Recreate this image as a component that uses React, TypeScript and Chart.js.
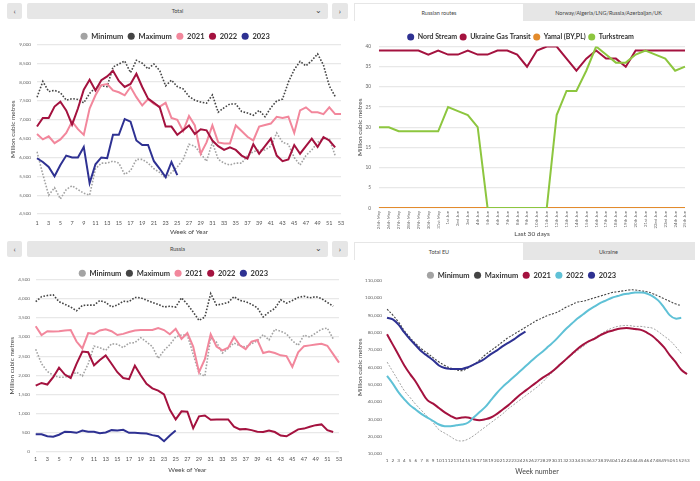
import { useEffect, useRef } from "react";
import { Chart, registerables } from "chart.js";
Chart.register(...registerables);

// ---------- Labels ----------
const weekLabels = ["1","2","3","4","5","6","7","8","9","10","11","12","13","14","15","16","17","18","19","20","21","22","23","24","25","26","27","28","29","30","31","32","33","34","35","36","37","38","39","40","41","42","43","44","45","46","47","48","49","50","51","52","53"];
const dayLabels = ["25th May","26th May","27th May","28th May","29th May","30th May","31st May","1st Jun","2nd Jun","3rd Jun","4th Jun","5th Jun","6th Jun","7th Jun","8th Jun","9th Jun","10th Jun","11th Jun","12th Jun","13th Jun","14th Jun","15th Jun","16th Jun","17th Jun","18th Jun","19th Jun","20th Jun","21st Jun","22nd Jun","23rd Jun","24th Jun","25th Jun"];

// ---------- Total imports (weekly) ----------
const totalMin = [6150,5550,5000,5200,4900,5150,5250,5150,5050,5000,5700,5850,5850,5900,5850,5550,5650,5950,5950,5850,5700,5600,5450,5600,5750,5950,6350,6300,6100,5900,6400,5950,5850,5800,5850,5850,6050,6150,6200,6200,6300,6650,6400,6350,6000,5800,6050,6200,6400,6500,6500,6050];
const totalMax = [7600,8020,7750,7780,7720,7520,7560,7540,7450,7700,7850,7900,7880,8400,8480,8560,8250,8580,8500,8350,8480,8300,7900,8050,7880,7820,7620,7520,7470,7440,7660,7200,7320,7420,7420,7220,7180,7120,7250,7080,7320,7500,7550,8000,8330,8550,8430,8570,8750,8450,7900,7620];
const total2021 = [6620,6480,6560,6380,6480,6650,6950,6750,6600,7300,7650,7920,7950,7780,7730,7650,7870,7600,7380,7550,7420,7350,7450,7050,7000,6700,7100,6850,6100,6400,6850,6400,6370,6370,6850,6700,6550,6450,6820,6860,6900,7080,7050,7080,6650,7250,7330,7200,7200,7150,7330,7150,7150];
const total2022 = [6820,7050,7050,7350,7480,7250,6870,7300,7800,8060,7780,8050,8150,8300,8030,7870,7950,8220,7870,7560,7450,7330,6820,6820,6600,6720,6850,6620,6750,6720,6450,6300,6200,6270,6200,6050,5970,6350,6100,6300,6500,6050,5900,5950,6330,6100,6300,6500,6280,6540,6450,6270];
const total2023 = [5980,5880,5750,5500,5800,6050,6000,6000,6280,5320,5820,6000,5980,6600,6600,7020,6950,6450,6330,6330,5900,5700,5480,5880,5530];

// ---------- Russian routes (last 30 days) ----------
const nordStream = [0,0,0,0,0,0,0,0,0,0,0,0,0,0,0,0,0,0,0,0,0,0,0,0,0,0,0,0,0,0,0,0];
const ukraineTransit = [39,39,39,39,39,38,39,38,38,39,38,38,39,39,38,35,39,40,40,37,34,37,39,37,37,35,39,39,39,39,39,39];
const yamal = [0,0,0,0,0,0,0,0,0,0,0,0,0,0,0,0,0,0,0,0,0,0,0,0,0,0,0,0,0,0,0,0];
const turkstream = [20,20,19,19,19,19,19,25,24,23,20,0,0,0,0,0,0,0,23,29,29,34,40,38,36,36,38,39,38,37,34,35];

// ---------- Russia (weekly) ----------
const russiaMin = [2680,2300,2100,2000,1950,1950,2000,2080,1980,2300,2760,2720,2650,2820,2810,2720,2840,2850,2980,2870,2750,2440,2650,2800,3000,3050,3050,2550,2050,1980,2980,2860,2580,2700,2840,2770,2740,2820,2900,3060,2920,3200,3150,3080,2900,2780,3050,3000,3100,3200,3230,2950];
const russiaMax = [3920,4050,4080,4100,3920,3850,3780,3680,3820,3830,3830,3950,3900,3780,3830,3930,3920,4030,4020,3960,3900,3850,3780,3800,3780,4020,3850,3650,3430,3520,4130,3830,3860,3900,4050,3950,3920,3850,3760,3520,3650,3740,3970,3880,3950,4030,4060,4020,4050,4000,3900,3800];
const russia2021 = [3280,3050,3150,3140,3150,3170,3180,2880,2700,3100,3080,3170,3200,3150,3050,3080,3130,3170,3180,3180,3180,3230,3180,3070,3210,2950,3100,2750,2080,2420,3070,2750,2650,2720,3000,2780,2680,2880,2920,2580,2620,2580,2520,2500,2220,2600,2760,2780,2800,2820,2770,2550,2330];
const russia2022 = [1730,1800,1760,1950,2200,2020,1930,2300,2620,2600,2260,2400,2520,2300,2080,1930,1900,2250,2000,1780,1660,1600,1500,1100,850,1060,1050,620,930,950,840,850,850,850,660,590,600,570,530,520,560,520,430,410,500,590,610,660,700,720,570,520];
const russia2023 = [460,460,410,400,450,530,520,500,560,530,530,490,510,570,560,580,500,500,490,480,440,410,280,430,560];

// ---------- EU storage (weekly) ----------
const storageMin = [63000,57500,52000,46500,42500,38500,35000,31500,28000,24000,22000,20000,18000,17500,18500,20500,23000,25500,28000,30500,33000,36000,38500,41000,43500,46000,48500,51500,55000,58000,61000,64000,67000,69500,72000,74500,77000,79000,81000,82500,83500,84000,84000,83500,83500,83000,82500,80500,78000,75500,72000,68000];
const storageMax = [93500,90000,86000,81000,77000,73500,70500,68000,65500,63000,61000,59500,58500,58000,59500,61500,64000,67000,69500,72000,74500,77000,79000,81000,83000,85000,87000,88500,90000,91000,92500,94500,96000,97500,98000,99000,100000,101000,102000,103000,103500,104000,104500,104500,104000,103500,102500,101000,99500,98000,96500,95500];
const storage2021 = [79000,73000,67000,61000,56000,51500,46000,41000,39000,36500,34000,32000,30500,31000,31000,30000,29500,30000,31000,33000,35500,38000,41000,44000,46500,49000,51500,54000,56000,58500,61500,64500,67500,70500,73000,75000,76500,78500,80000,81000,82000,82500,82500,82000,81500,80000,78000,75000,71500,67000,63000,58500,56000];
const storage2022 = [55000,50500,45500,41500,38000,35500,33000,31000,29000,27000,26000,26000,26500,27000,28000,31000,34000,37000,41000,45000,48500,51500,54500,57500,60500,63500,66500,69000,72000,75000,78500,82000,85000,88000,90500,93000,95000,97000,98500,100000,101000,102000,102500,103000,103000,102500,101000,98500,94500,90000,88000,88500];
const storage2023 = [88500,87500,84500,80000,76000,72500,69000,66500,64000,61000,59500,59000,59000,59000,60000,61500,63000,65000,67500,69500,72000,74000,76000,78500,80500];

// ---------- Styles ----------
const FONT = "Lato, 'Open Sans', sans-serif";
const C = {
  min: "#a3a3a3",
  max: "#444444",
  pink: "#f2879c",
  red: "#a4123f",
  navy: "#2e3192",
  blue: "#5fc1d6",
  green: "#8dc63f",
  orange: "#e38b2c",
};

function legendLabels(fontSize: number, padding: number) {
  return {
    usePointStyle: true,
    pointStyle: "circle",
    boxWidth: 7,
    boxHeight: 5,
    padding,
    color: "#333",
    font: { family: FONT, size: fontSize, weight: 700 as const },
    sort: (a: any, b: any) => a.datasetIndex - b.datasetIndex,
    generateLabels: (chart: any) => {
      const items = (Chart.defaults.plugins.legend.labels as any).generateLabels(chart);
      return items.map((it: any) => {
        const ds = chart.data.datasets[it.datasetIndex];
        return { ...it, fillStyle: ds.legendColor || it.fillStyle, strokeStyle: ds.legendColor || it.strokeStyle, lineDash: [], lineWidth: 0 };
      });
    },
  };
}

function legendGap(extra: number) {
  return {
    id: "legendGap",
    afterInit(chart: any) {
      const legend = chart.legend;
      if (!legend) return;
      const fit = legend.fit;
      legend.fit = function () {
        fit.call(this);
        this.height += extra;
      };
    },
  };
}

function line(label: string, data: number[], color: string, order: number, extra: any = {}) {
  return {
    label,
    data,
    borderColor: color,
    backgroundColor: color,
    legendColor: color,
    borderWidth: 2,
    pointRadius: 0,
    pointHoverRadius: 0,
    fill: false,
    tension: 0,
    order,
    ...extra,
  };
}

function dotted(label: string, data: number[], color: string, order: number, width = 1.6, dash = [1.6, 1.6]) {
  return line(label, data, color, order, { borderWidth: width, borderDash: dash });
}

const fmt = (v: any) => Number(v).toLocaleString("en-US");

type Geo = {
  pad: { left: number; right: number; top: number; bottom: number };
  xTickPad: number;
  xTitlePad: number;
  yTickPad: number;
  yTitlePad: number;
};

function weeklyOptions(yMin: number, yMax: number, step: number, g: Geo, oddOnly: boolean, gridY: boolean, xTitle: string) {
  return {
    animation: false as const,
    responsive: true,
    maintainAspectRatio: false,
    layout: { padding: g.pad },
    plugins: {
      legend: { position: "top" as const, labels: legendLabels(7.5, 4.5) },
      tooltip: { enabled: false },
    },
    scales: {
      x: {
        grid: { display: false, drawTicks: false },
        border: { display: false },
        ticks: {
          autoSkip: false,
          maxRotation: 0,
          minRotation: 0,
          padding: g.xTickPad,
          color: "#555",
          font: { family: FONT, size: oddOnly ? 5.5 : 4.6 },
          callback: function (_v: any, i: number) {
            return oddOnly ? (i % 2 === 0 ? weekLabels[i] : "") : weekLabels[i];
          },
        },
        title: { display: true, text: xTitle, color: "#444", font: { family: FONT, size: oddOnly ? 6.5 : 7 }, padding: { top: g.xTitlePad, bottom: 0 } },
      },
      y: {
        min: yMin,
        max: yMax,
        grid: { display: gridY, color: "#e8e8e8", lineWidth: 1.2, drawTicks: false },
        border: { display: false },
        ticks: { stepSize: step, padding: g.yTickPad, color: "#666", font: { family: FONT, size: 4.6 }, callback: fmt },
        title: { display: true, text: "Million cubic metres", color: "#444", font: { family: FONT, size: 6.5 }, padding: { top: 0, bottom: g.yTitlePad } },
      },
    },
  };
}

function ChartBox({ left, top, width, height, make }: { left: number; top: number; width: number; height: number; make: () => any }) {
  const ref = useRef<HTMLCanvasElement>(null);
  useEffect(() => {
    const chart = new Chart(ref.current as HTMLCanvasElement, make());
    return () => chart.destroy();
  }, []);
  return (
    <div style={{ position: "absolute", left, top, width, height }}>
      <canvas ref={ref} />
    </div>
  );
}

const btn: any = {
  position: "absolute",
  background: "#e6e6e6",
  borderRadius: 2,
  color: "#444",
  fontFamily: FONT,
  display: "flex",
  alignItems: "center",
  justifyContent: "center",
};

function NavHeader({ top, title }: { top: number; title: string }) {
  return (
    <>
      <div style={{ ...btn, left: 7, top, width: 15, height: 16, fontSize: 8 }}>‹</div>
      <div style={{ ...btn, left: 27, top, width: 301, height: 16, fontSize: 5.5 }}>
        {title}
        <span style={{ position: "absolute", right: 6, top: 2, fontSize: 8 }}>⌄</span>
      </div>
      <div style={{ ...btn, left: 332, top, width: 16, height: 16, fontSize: 8 }}>›</div>
    </>
  );
}

function Tabs({ top, a, b }: { top: number; a: string; b: string }) {
  return (
    <>
      <div style={{ position: "absolute", left: 354, top, width: 341, height: 18, background: "#e6e6e6" }} />
      <div style={{ ...btn, left: 355, top: top + 1, width: 168, height: 18, background: "#fff", borderRadius: 0, fontSize: 5.5 }}>{a}</div>
      <div style={{ ...btn, left: 523, top: top + 1, width: 171, height: 17, background: "transparent", borderRadius: 0, fontSize: 5.5 }}>{b}</div>
    </>
  );
}

export default function App() {
  useEffect(() => {
    document.body.style.margin = "0";
  }, []);
  return (
    <div style={{ position: "relative", width: 700, height: 481, background: "#fff", overflow: "hidden" }}>
      <NavHeader top={3} title="Total" />
      <ChartBox
        left={0}
        top={24}
        width={350}
        height={216}
        make={() => ({
          type: "line",
          data: {
            labels: weekLabels,
            datasets: [
              dotted("Minimum", totalMin, C.min, 5),
              dotted("Maximum", totalMax, C.max, 4),
              line("2021", total2021, C.pink, 3),
              line("2022", total2022, C.red, 2),
              line("2023", total2023, C.navy, 1),
            ],
          },
          options: weeklyOptions(4500, 9000, 500, { pad: { left: 9.4, right: 9, top: 4, bottom: 4 }, xTickPad: 5.7, xTitlePad: -3.8, yTickPad: 6, yTitlePad: -3.9 }, true, true, "Week of Year"),
          plugins: [legendGap(-5.6)],
        })}
      />

      <Tabs top={3} a="Russian routes" b="Norway/Algeria/LNG/Russia/Azerbaijan/UK" />
      <ChartBox
        left={350}
        top={24}
        width={350}
        height={216}
        make={() => ({
          type: "line",
          data: {
            labels: dayLabels,
            datasets: [
              line("Nord Stream", nordStream, C.navy, 4),
              line("Ukraine Gas Transit", ukraineTransit, C.red, 3),
              line("Yamal (BY,PL)", yamal, C.orange, 2),
              line("Turkstream", turkstream, C.green, 1),
            ],
          },
          options: {
            animation: false,
            responsive: true,
            maintainAspectRatio: false,
            layout: { padding: { left: 6.1, right: 15, top: 7, bottom: 2 } },
            plugins: {
              legend: { position: "top", labels: legendLabels(7, 2.5) },
              tooltip: { enabled: false },
            },
            scales: {
              x: {
                grid: { display: false, drawTicks: false },
                border: { display: false },
                ticks: { autoSkip: false, maxRotation: 90, minRotation: 90, padding: 3, color: "#666", font: { family: FONT, size: 4.3 } },
                title: { display: true, text: "Last 30 days", color: "#444", font: { family: FONT, size: 6.5 }, padding: { top: -2, bottom: 0 } },
              },
              y: {
                min: 0,
                max: 40,
                grid: { color: "#e8e8e8", lineWidth: 1.2, drawTicks: false },
                border: { display: false },
                ticks: { stepSize: 5, padding: 8, color: "#666", font: { family: FONT, size: 4.8 } },
                title: { display: true, text: "Million cubic metres", color: "#444", font: { family: FONT, size: 6.5 }, padding: { top: 0, bottom: -6.5 } },
              },
            },
          },
          plugins: [legendGap(-4)],
        })}
      />

      <NavHeader top={241} title="Russia" />
      <ChartBox
        left={0}
        top={260}
        width={350}
        height={221}
        make={() => ({
          type: "line",
          data: {
            labels: weekLabels,
            datasets: [
              dotted("Minimum", russiaMin, C.min, 5),
              dotted("Maximum", russiaMax, C.max, 4),
              line("2021", russia2021, C.pink, 3),
              line("2022", russia2022, C.red, 2),
              line("2023", russia2023, C.navy, 1),
            ],
          },
          options: weeklyOptions(0, 4500, 500, { pad: { left: 7.8, right: 11, top: 5, bottom: 7 }, xTickPad: 4.4, xTitlePad: -1.2, yTickPad: 5.7, yTitlePad: -3 }, true, true, "Week of Year"),
          plugins: [legendGap(-7.6)],
        })}
      />

      <Tabs top={242} a="Total EU" b="Ukraine" />
      <ChartBox
        left={350}
        top={262}
        width={350}
        height={219}
        make={() => ({
          type: "line",
          data: {
            labels: weekLabels,
            datasets: [
              dotted("Minimum", storageMin, C.min, 5, 1, [2, 1.5]),
              dotted("Maximum", storageMax, C.max, 4, 1.1, [2, 1.5]),
              line("2021", storage2021, C.red, 3),
              line("2022", storage2022, C.blue, 2),
              line("2023", storage2023, C.navy, 1),
            ].map((d: any) => ({ ...d, tension: 0.4 })),
          },
          options: weeklyOptions(10000, 110000, 10000, { pad: { left: 6.1, right: 13, top: 5, bottom: 5 }, xTickPad: 4.2, xTitlePad: -0.3, yTickPad: 5, yTitlePad: -3.9 }, false, false, "Week number"),
          plugins: [legendGap(-8.6)],
        })}
      />
    </div>
  );
}
